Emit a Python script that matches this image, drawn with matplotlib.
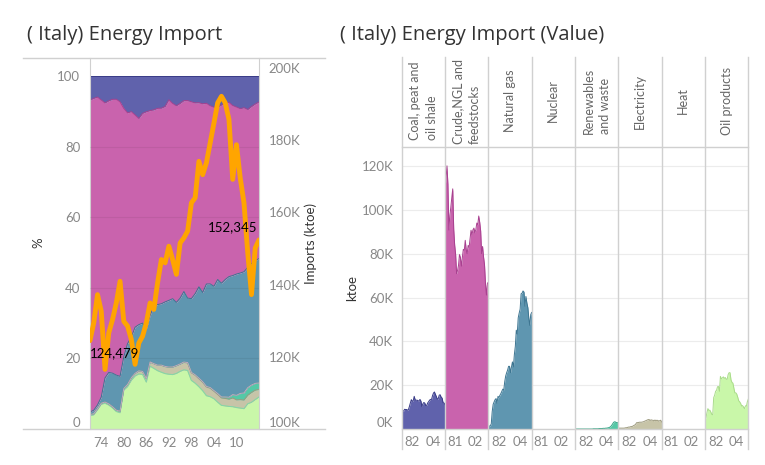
import matplotlib
matplotlib.use('Agg')
import matplotlib.pyplot as plt
from matplotlib.lines import Line2D
from matplotlib.ticker import FuncFormatter
import numpy as np

plt.rcParams['font.family'] = ['Lato', 'DejaVu Sans']

years = list(range(1971, 2017))

# imports by product, ktoe (thousands)
coal = [8.5, 8.2, 8.2, 9.0, 8.9, 8.9, 8.6, 8.9, 10.3, 11.9, 13.4, 12.6, 13.0, 14.9, 13.3, 13.1,
        13.2, 12.8, 12.9, 13.5, 12.7, 10.2, 11.5, 12.1, 11.8, 10.7, 10.8, 11.9, 12.5, 13.2, 13.5,
        13.5, 15.2, 16.4, 16.9, 15.8, 14.8, 13.6, 13.9, 15.5, 15.6, 14.5, 14.1, 11.9, 11.9, 11.1]
crude = [110.1, 114.4, 120.1, 111.6, 90.8, 97.5, 101.1, 105.5, 109.6, 91.3, 84.0, 79.7, 70.9, 72.3,
         74.7, 79.6, 78.2, 74.3, 78.4, 82.0, 81.5, 86.1, 81.8, 80.0, 83.8, 82.9, 86.8, 90.7, 88.7,
         90.9, 91.7, 89.5, 91.0, 94.0, 93.2, 97.2, 94.4, 90.4, 80.0, 83.3, 78.5, 75.0, 66.4, 61.1,
         66.5, 67.0]
gas = [0.9, 1.3, 1.5, 2.3, 8.0, 11.3, 12.4, 13.4, 13.9, 11.7, 14.9, 14.4, 15.4, 16.2, 17.2, 18.2,
       17.8, 21.6, 24.2, 25.7, 26.9, 28.6, 28.6, 25.7, 28.3, 30.6, 28.3, 34.0, 37.7, 45.1, 43.3,
       50.7, 52.9, 54.7, 61.7, 62.0, 63.0, 62.5, 56.0, 60.5, 57.5, 55.4, 50.6, 47.3, 52.2, 53.2]
nuclear = [0.0] * 46
renewables = [0.0] * 19 + [0.1, 0.1, 0.1, 0.1, 0.1, 0.1, 0.2, 0.2, 0.2, 0.2, 0.3, 0.3, 0.3, 0.4,
                          0.4, 0.5, 0.6, 0.8, 1.1, 1.6, 2.3, 3.0, 3.3, 3.2, 2.9, 2.9, 2.8]
electricity = [0.4, 0.4, 0.4, 0.4, 0.4, 0.4, 0.4, 0.5, 0.6, 0.6, 0.8, 0.9, 0.9, 1.1, 1.1, 1.3,
               1.6, 1.8, 2.2, 2.9, 2.9, 3.0, 3.1, 3.1, 3.1, 3.2, 3.3, 3.5, 3.7, 3.9, 4.1, 4.3,
               4.3, 3.9, 4.2, 4.0, 4.0, 3.7, 4.1, 3.8, 4.0, 3.9, 3.6, 3.8, 4.0, 3.2]
heat = [0.0] * 46
oil_products = [4.7, 5.2, 7.5, 9.3, 8.5, 8.6, 7.8, 6.7, 6.5, 14.3, 15.4, 17.2, 17.7, 19.3, 19.4,
                17.2, 24.0, 22.9, 23.3, 23.8, 23.1, 23.5, 22.8, 22.6, 24.8, 25.7, 25.7, 22.4, 21.3,
                20.9, 18.6, 16.5, 16.5, 15.9, 14.5, 12.9, 12.4, 11.7, 10.5, 10.7, 10.0, 9.3, 10.6,
                10.4, 12.5, 13.7]

# total imports line, ktoe
total_imports = [124479, 129400, 137200, 132600, 116500, 126600, 130300, 134900, 140900, 129800,
                 128500, 124800, 117900, 123800, 125700, 129400, 134900, 133100, 140500, 146900,
                 146000, 150600, 146900, 142800, 151500, 152900, 154800, 162600, 164000, 174100,
                 170400, 173700, 179200, 184700, 190300, 192100, 190300, 185700, 169100, 178700,
                 169500, 162600, 148800, 137200, 150100, 152345]

products = ['Coal, peat and\noil shale', 'Crude,NGL and\nfeedstocks', 'Natural gas', 'Nuclear',
            'Renewables\nand waste', 'Electricity', 'Heat', 'Oil products']
values = [coal, crude, gas, nuclear, renewables, electricity, heat, oil_products]
colors = ['#6062ac', '#c963ad', '#5f96b0', '#dcc3d6', '#55c8a6', '#c7c4a8', '#a8e8c8', '#c9f7a9']
edges = ['#383a86', '#a8408f', '#3d7591', '#c9a6c2', '#35a585', '#9d9a7e', '#86d3ac', '#a9db8a']
panel_ticks = [(1982, 2004), (1981, 2002), (1982, 2004), (1981, 2002),
               (1982, 2004), (1982, 2004), (1981, 2002), (1982, 2004)]

W, H = 765, 465
fig = plt.figure(figsize=(W / 100, H / 100), dpi=100)


def px_axes(x0, y0, x1, y1):
    return fig.add_axes([x0 / W, 1 - y1 / H, (x1 - x0) / W, (y1 - y0) / H])


def hline(x0, x1, y, color='#d0d0d0', lw=1.0):
    fig.add_artist(Line2D([x0 / W, x1 / W], [1 - y / H, 1 - y / H], color=color, lw=lw,
                          transform=fig.transFigure))


def vline(x, y0, y1, color='#d0d0d0', lw=1.0):
    fig.add_artist(Line2D([x / W, x / W], [1 - y0 / H, 1 - y1 / H], color=color, lw=lw,
                          transform=fig.transFigure))


tick_color = '#888888'
title_font = ['Open Sans', 'DejaVu Sans']
fig.text(27 / W, 1 - 35 / H, '( Italy) Energy Import', fontsize=14.5, color='#333333',
         va='center', family=title_font)
fig.text(340 / W, 1 - 35 / H, '( Italy) Energy Import (Value)', fontsize=14.5, color='#333333',
         va='center', family=title_font)

# ---- left: percentage share + total line
ax = px_axes(90, 58, 259, 429)
arr = np.array(values)
pct = arr / arr.sum(axis=0) * 100
stack_order = [7, 6, 5, 4, 3, 2, 1, 0]  # oil products at bottom, coal on top
base = np.zeros(len(years))
for i in stack_order:
    top = base + pct[i]
    ax.fill_between(years, base, top, color=colors[i], lw=0)
    ax.plot(years, top, color=edges[i], lw=0.7)
    base = top
for g in [20, 40, 60, 80]:
    ax.axhline(g, color='black', alpha=0.06, lw=0.8, zorder=3)
ax.set_xlim(1971, 2016)
ax.set_ylim(0, 105.1)
ax.set_yticks([0, 20, 40, 60, 80, 100])
ax.set_xticks([1974, 1980, 1986, 1992, 1998, 2004, 2010])
ax.xaxis.set_major_formatter(FuncFormatter(lambda v, p: f'{int(v) % 100:02d}'))
ax.tick_params(length=0, labelsize=9.5, labelcolor=tick_color)
ax.tick_params(axis='y', pad=7)
ax.tick_params(axis='x', pad=6)
for s in ['top', 'bottom']:
    ax.spines[s].set_visible(False)
for s in ['left', 'right']:
    ax.spines[s].set_color('#d0d0d0')

ax2 = ax.twinx()
ax2.plot(years, total_imports, color='#ffa500', lw=3.5, solid_joinstyle='round',
         solid_capstyle='round')
ax2.set_ylim(100000, 202700)
ax2.set_yticks([100000, 120000, 140000, 160000, 180000, 200000])
ax2.yaxis.set_major_formatter(FuncFormatter(lambda v, p: f'{int(v / 1000)}K'))
ax2.tick_params(length=0, labelsize=9.5, labelcolor=tick_color, pad=7)
for s in ['top', 'bottom', 'left', 'right']:
    ax2.spines[s].set_visible(False)
ax2.annotate(f'{total_imports[0]:,}', (years[0], total_imports[0]), xytext=(0, -5),
             textcoords='offset points', ha='left', va='top', fontsize=9.5, color='black')
ax2.annotate(f'{total_imports[-1]:,}', (years[-1], total_imports[-1]), xytext=(-1, 5),
             textcoords='offset points', ha='right', va='bottom', fontsize=9.5, color='black')
ax.get_yticklabels()[0].set_va('bottom')
ax2.get_yticklabels()[0].set_va('bottom')

fig.text(38 / W, 1 - 243 / H, '%', rotation=90, fontsize=9.5, color='#333333', ha='center',
         va='center')
fig.text(311 / W, 1 - 243 / H, 'Imports (ktoe)', rotation=90, fontsize=9.5, color='#333333',
         ha='center', va='center')
hline(23, 325, 58)
hline(23, 325, 429)

# ---- right: small multiples in ktoe
x0, pw = 401.7, 43.33
for i, (name, vals) in enumerate(zip(products, values)):
    axp = px_axes(x0 + i * pw, 147, x0 + (i + 1) * pw, 429)
    kt = np.array(vals) * 1000
    axp.fill_between(years, 0, kt, color=colors[i], lw=0, zorder=2)
    axp.plot(years, kt, color=edges[i], lw=0.7, zorder=2)
    axp.set_xlim(1971, 2016)
    axp.set_ylim(0, 128700)
    axp.set_yticks([0, 20000, 40000, 60000, 80000, 100000, 120000])
    axp.yaxis.grid(True, color='#ececec', lw=0.8, zorder=0)
    axp.set_axisbelow(True)
    t0, t1 = panel_ticks[i]
    axp.set_xticks([t0, t1])
    axp.set_xticklabels([f'{t0 % 100:02d}', f'{t1 % 100:02d}'])
    axp.tick_params(length=0, labelsize=9.5, labelcolor=tick_color)
    axp.tick_params(axis='x', pad=5)
    if i == 0:
        axp.yaxis.set_major_formatter(FuncFormatter(lambda v, p: f'{int(v / 1000)}K'))
        axp.tick_params(axis='y', pad=6)
        axp.get_yticklabels()[0].set_va('bottom')
    else:
        axp.set_yticklabels([])
    for s in axp.spines.values():
        s.set_visible(False)
    fig.text((x0 + (i + 0.5) * pw) / W, 1 - 101 / H, name, rotation=90, fontsize=9,
             color='#666666', ha='center', va='center', multialignment='left',
             linespacing=1.45)

for i in range(9):
    vline(x0 + i * pw, 57, 449)
hline(x0, x0 + 8 * pw, 147)
hline(x0, x0 + 8 * pw, 429)
fig.text(352 / W, 1 - 288 / H, 'ktoe', rotation=90, fontsize=9.5, color='#333333', ha='center',
         va='center')

fig.savefig('out.png', dpi=100)
plt.close(fig)
